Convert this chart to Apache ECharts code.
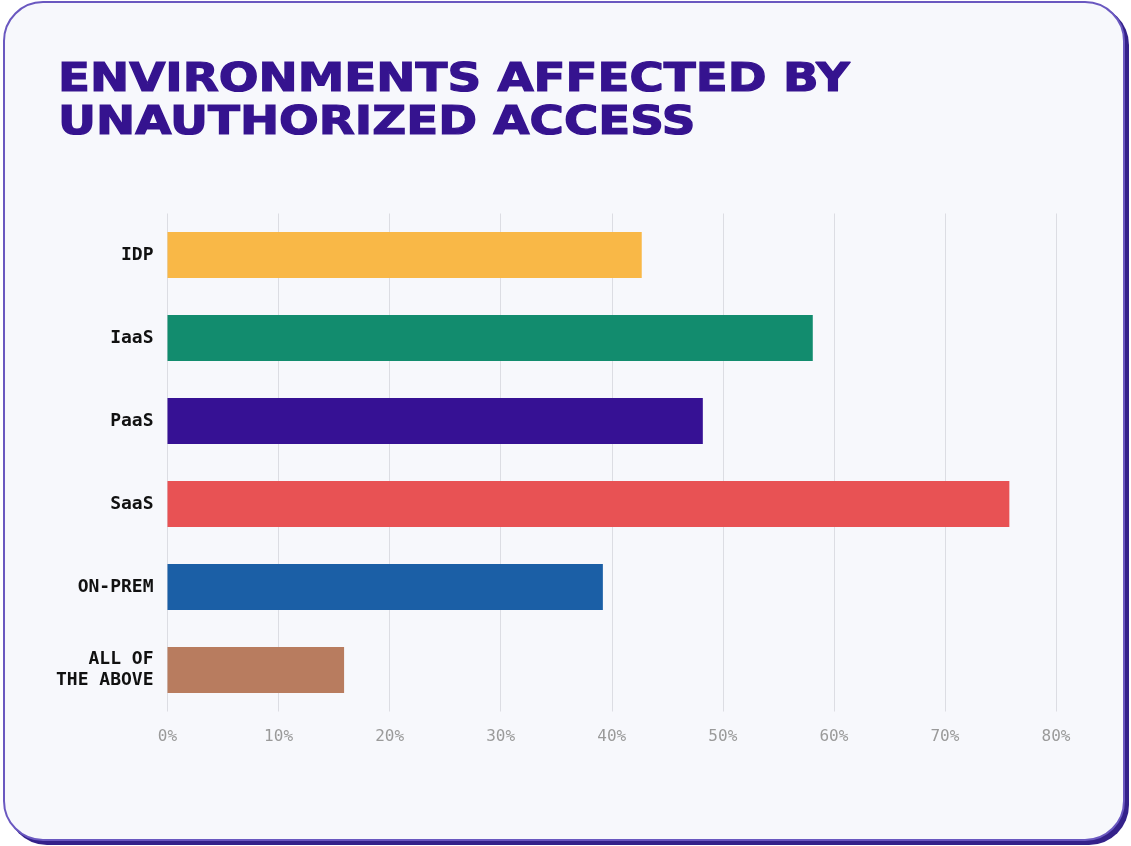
<!DOCTYPE html>
<html>
<head>
<meta charset="utf-8">
<script src="https://cdn.jsdelivr.net/npm/echarts@6/dist/echarts.min.js"></script>
<style>
html,body{margin:0;padding:0;background:#ffffff;width:1131px;height:846px;overflow:hidden;}
#card{position:absolute;left:3px;top:1px;width:1122px;height:840px;box-sizing:border-box;border:2px solid #6a58c0;border-radius:40px;background:#f7f8fc;box-shadow:4px 4px 0 #34218a;}
#chart{position:absolute;left:0;top:0;width:1131px;height:846px;}
</style>
</head>
<body>
<div id="card"></div>
<div id="chart"></div>
<script>
const titleLines = ['ENVIRONMENTS AFFECTED BY', 'UNAUTHORIZED ACCESS'];
const categories = ['IDP', 'IaaS', 'PaaS', 'SaaS', 'ON-PREM', 'ALL OF\nTHE ABOVE'];
const values = [42.7, 58.1, 48.2, 75.8, 39.2, 15.9];
const colors = ['#f9b847', '#128c6e', '#361194', '#e85254', '#1b5fa6', '#b87c5f'];
const xTicks = [0, 10, 20, 30, 40, 50, 60, 70, 80];

const chart = echarts.init(document.getElementById('chart'), null, {renderer: 'canvas'});
chart.setOption({
  backgroundColor: 'transparent',
  animation: false,
  graphic: [{
    type: 'text',
    x: 58, y: 59,
    scaleX: 1.2,
    style: {
      text: titleLines.join('\n'),
      font: 'bold 39px "DejaVu Sans"',
      fill: '#35138f',
      stroke: '#35138f',
      lineWidth: 1.2,
      lineHeight: 43,
      verticalAlign: 'top'
    }
  }],
  grid: {left: 167.5, right: 75, top: 213.5, bottom: 134.5, containLabel: false},
  xAxis: {
    type: 'value',
    min: xTicks[0], max: xTicks[xTicks.length - 1], interval: 10,
    axisLine: {show: false}, axisTick: {show: false},
    splitLine: {show: true, lineStyle: {color: '#dcdde3', width: 1}},
    axisLabel: {formatter: '{value}%', color: '#9a9a9a', fontFamily: '"DejaVu Sans Mono"', fontSize: 16, margin: 17}
  },
  yAxis: {
    type: 'category', inverse: true, data: categories,
    axisLine: {show: false}, axisTick: {show: false},
    axisLabel: {color: '#111111', fontFamily: '"DejaVu Sans Mono"', fontWeight: 'bold', fontSize: 18, lineHeight: 21, margin: 14, align: 'right'}
  },
  series: [{
    type: 'bar',
    barWidth: 46,
    data: values.map((v, i) => ({value: v, itemStyle: {color: colors[i]}})),
    label: {show: false}
  }]
});
</script>
</body>
</html>
